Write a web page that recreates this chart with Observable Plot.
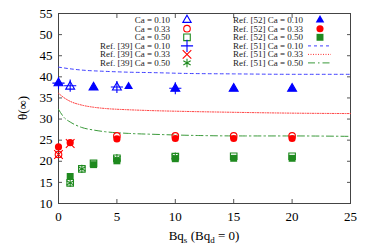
<!DOCTYPE html>
<html>
<head>
<meta charset="utf-8">
<script src="https://cdn.jsdelivr.net/npm/d3@7"></script>
<script src="https://cdn.jsdelivr.net/npm/@observablehq/plot@0.6"></script>
<style>
  html, body { margin: 0; padding: 0; background: #fff; }
  #chart { width: 374px; height: 249px; }
</style>
</head>
<body>
<div id="chart"></div>
<script>
// ---------- data ----------
const xTicks = [0, 5, 10, 15, 20, 25];
const yTicks = [10, 15, 20, 25, 30, 35, 40, 45, 50, 55];

// present work, open symbols
const ca010X = [0, 1, 3, 5, 10, 15, 20];
const ca010Y = [38.5, 37.7, 37.5, 37.5, 37.2, 37.2, 37.2];
const ca033X = [0, 5, 10, 15, 20];
const ca033Y = [21.6, 26.0, 26.0, 26.0, 26.0];
const ca050X = [1, 2, 3, 5, 10, 15, 20];
const ca050Y = [14.9, 18.2, 19.5, 20.7, 21.1, 21.2, 21.2];

// Ref. [39]
const r39ca010X = [0, 1, 5, 10];
const r39ca010Y = [38.5, 37.9, 37.6, 37.3];
const r39ca033X = [0, 1];
const r39ca033Y = [21.6, 24.2];
const r39ca050X = [1, 2, 5, 10];
const r39ca050Y = [14.9, 18.2, 20.7, 21.1];

// Ref. [52], filled symbols
const r52ca010X = [0, 3, 6, 10, 15, 20];
const r52ca010Y = [38.5, 37.5, 37.7, 37.2, 37.2, 37.2];
const r52ca033X = [0, 1, 5, 10, 15, 20];
const r52ca033Y = [23.4, 24.4, 25.3, 25.4, 25.4, 25.4];
const r52ca050X = [1, 3, 5, 10, 15, 20];
const r52ca050Y = [16.4, 19.2, 20.1, 20.6, 20.7, 20.7];

// Ref. [51], curves
const r51ca010X = [0, 1, 2, 4, 6, 8, 11, 15, 20, 25];
const r51ca010Y = [42.3, 41.9, 41.6, 41.3, 41.1, 41.0, 40.8, 40.7, 40.6, 40.6];
const r51ca033X = [0, 0.5, 1, 2, 3, 4, 6, 8, 11, 15, 20, 25];
const r51ca033Y = [36.1, 35.0, 34.2, 33.3, 32.8, 32.5, 32.2, 32.0, 31.8, 31.6, 31.4, 31.3];
const r51ca050X = [0, 0.5, 1, 2, 3, 4, 6, 8, 12, 16, 20, 25];
const r51ca050Y = [32.3, 30.3, 29.3, 28.0, 27.4, 27.0, 26.6, 26.4, 26.1, 26.0, 26.0, 25.9];

const BLUE = "#0000ff", RED = "#ff0000", GREEN = "#1f8a1f";
const pts = (xs, ys) => xs.map((x, i) => ({x, y: ys[i]}));

const FONT = "'Liberation Serif', 'DejaVu Serif', serif";

const plot = Plot.plot({
  width: 374,
  height: 249,
  marginLeft: 58,
  marginRight: 24,
  marginTop: 13,
  marginBottom: 46,
  style: {fontFamily: FONT, fontSize: "13px", color: "#000", background: "#fff"},
  x: {domain: [0, 25]},
  y: {domain: [10, 55]},
  marks: [
    Plot.axisX(xTicks, {anchor: "bottom", tickSize: -4, tickPadding: 12, label: null, stroke: "#555"}),
    Plot.axisX(xTicks, {anchor: "top", tickSize: -4, tickFormat: () => "", label: null, stroke: "#555"}),
    Plot.axisY(yTicks, {anchor: "left", tickSize: -4, tickPadding: 10, label: null, stroke: "#555"}),
    Plot.axisY(yTicks, {anchor: "right", tickSize: -4, tickFormat: () => "", label: null, stroke: "#555"}),
    Plot.frame({stroke: "#444", strokeWidth: 1}),
    // Ref [51] curves
    Plot.line(pts(r51ca010X, r51ca010Y), {x: "x", y: "y", curve: "monotone-x", stroke: "#4040ff", strokeWidth: 1, strokeDasharray: "3,3"}),
    Plot.line(pts(r51ca033X, r51ca033Y), {x: "x", y: "y", curve: "monotone-x", stroke: "#ff3030", strokeWidth: 1, strokeDasharray: "1,1.5"}),
    Plot.line(pts(r51ca050X, r51ca050Y), {x: "x", y: "y", curve: "monotone-x", stroke: "#3a9a3a", strokeWidth: 1, strokeDasharray: "7,3,1.5,3"}),
    // Ref [52] filled
    Plot.dot(pts(r52ca010X, r52ca010Y), {x: "x", y: "y", symbol: "triangle", r: 3.3, fill: BLUE}),
    Plot.dot(pts(r52ca033X, r52ca033Y), {x: "x", y: "y", symbol: "circle", r: 3.6, fill: RED}),
    Plot.dot(pts(r52ca050X, r52ca050Y), {x: "x", y: "y", symbol: "square", r: 3.9, fill: GREEN}),
    // present open
    Plot.dot(pts(ca010X, ca010Y), {x: "x", y: "y", symbol: "triangle", r: 3.3, stroke: BLUE, strokeWidth: 1.1, fill: "none"}),
    Plot.dot(pts(ca033X, ca033Y), {x: "x", y: "y", symbol: "circle", r: 3.3, stroke: RED, strokeWidth: 1.1, fill: "none"}),
    Plot.dot(pts(ca050X, ca050Y), {x: "x", y: "y", symbol: "square", r: 3.7, stroke: GREEN, strokeWidth: 1.1, fill: "none"}),
    // Ref [39]
    Plot.dot(pts(r39ca010X, r39ca010Y), {x: "x", y: "y", symbol: "plus", r: 4, stroke: BLUE, strokeWidth: 1.1}),
    Plot.dot(pts(r39ca033X, r39ca033Y), {x: "x", y: "y", symbol: "times", r: 4, stroke: RED, strokeWidth: 1.1}),
    Plot.dot(pts(r39ca050X, r39ca050Y), {x: "x", y: "y", symbol: "asterisk", r: 4, stroke: GREEN, strokeWidth: 1.1})
  ]
});

document.getElementById("chart").appendChild(plot);

// ---------- axis titles and legend ----------
const svg = d3.select(plot);

const xl = svg.append("text")
  .attr("x", 204).attr("y", 240)
  .attr("text-anchor", "middle")
  .style("font-family", FONT).style("font-size", "13px").attr("fill", "#000");
xl.append("tspan").text("Bq");
xl.append("tspan").attr("font-size", "9px").attr("dy", 3).text("s");
xl.append("tspan").attr("dy", -3).text(" (Bq");
xl.append("tspan").attr("font-size", "9px").attr("dy", 3).text("d");
xl.append("tspan").attr("dy", -3).text(" = 0)");

svg.append("text")
  .attr("transform", "translate(27,108) rotate(-90)")
  .attr("text-anchor", "middle")
  .style("font-family", FONT).style("font-size", "13px").attr("fill", "#000")
  .text("θ(∞)");

const rowsY = [20, 28.7, 37.3, 45.9, 54.4, 62.9];
const leftLegend = [
  {label: "Ca = 0.10", type: d3.symbolTriangle, size: 30, color: BLUE, fill: false},
  {label: "Ca = 0.33", type: d3.symbolCircle, size: 34, color: RED, fill: false},
  {label: "Ca = 0.50", type: d3.symbolSquare, size: 43, color: GREEN, fill: false},
  {label: "Ref. [39] Ca = 0.10", type: d3.symbolPlus, size: 50, color: BLUE, cross: true},
  {label: "Ref. [39] Ca = 0.33", type: d3.symbolTimes, size: 50, color: RED, cross: true},
  {label: "Ref. [39] Ca = 0.50", type: d3.symbolAsterisk, size: 50, color: GREEN, cross: true}
];
const rightLegend = [
  {label: "Ref. [52] Ca = 0.10", type: d3.symbolTriangle, size: 32, color: BLUE, fill: true},
  {label: "Ref. [52] Ca = 0.33", type: d3.symbolCircle, size: 40, color: RED, fill: true},
  {label: "Ref. [52] Ca = 0.50", type: d3.symbolSquare, size: 48, color: GREEN, fill: true},
  {label: "Ref. [51] Ca = 0.10", line: true, color: "#4040ff", dash: "3,3"},
  {label: "Ref. [51] Ca = 0.33", line: true, color: "#ff3030", dash: "1,1.5"},
  {label: "Ref. [51] Ca = 0.50", line: true, color: "#3a9a3a", dash: "7,3,1.5,3"}
];

function drawLegend(items, textX, symX) {
  items.forEach((d, i) => {
    const y = rowsY[i];
    svg.append("text")
      .attr("x", textX).attr("y", y).attr("dy", "0.32em")
      .attr("text-anchor", "end")
      .style("font-family", FONT).style("font-size", "9px").attr("fill", "#222")
      .text(d.label);
    if (d.line) {
      svg.append("line")
        .attr("x1", symX - 12).attr("x2", symX + 11).attr("y1", y).attr("y2", y)
        .attr("stroke", d.color).attr("stroke-width", 1).attr("stroke-dasharray", d.dash);
    } else {
      svg.append("path")
        .attr("transform", `translate(${symX},${y})`)
        .attr("d", d3.symbol(d.type, d.size)())
        .attr("fill", d.fill ? d.color : "none")
        .attr("stroke", d.fill ? "none" : d.color)
        .attr("stroke-width", 1.1);
    }
  });
}
drawLegend(leftLegend, 170, 187);
drawLegend(rightLegend, 303, 320);
</script>
</body>
</html>
